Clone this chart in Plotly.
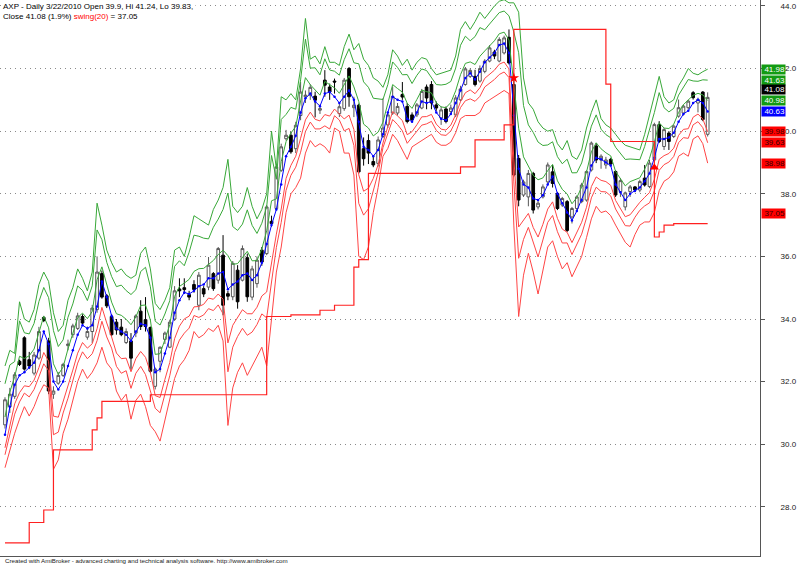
import numpy as np
import plotly.graph_objects as go

# ---------------- data ----------------
open_ = [30.62, 31.20, 31.53, 32.65, 33.40, 32.70, 32.27, 32.75, 34.05, 33.30,
         31.60, 31.95, 32.20, 33.15, 33.50, 33.70, 34.08, 33.42, 33.60, 34.30,
         35.45, 34.74, 34.08, 33.90, 33.74, 33.25, 33.30, 33.55, 34.25, 33.98,
         33.73, 31.85, 32.65, 33.35, 33.10, 34.00, 34.96, 35.00, 34.78,
         35.10, 34.44, 34.97, 35.02, 35.45, 35.24, 36.04, 34.81, 34.71, 35.56,
         35.24, 35.96, 34.70, 35.13, 36.20, 36.09, 37.12, 37.53, 38.75, 39.76,
         39.87, 39.44, 40.50, 41.10, 41.15, 41.12, 40.67, 41.63, 41.41, 41.60,
         40.56, 40.72, 42.00, 40.75, 40.83, 39.44,
         39.70, 39.03, 38.97, 39.83, 40.20, 40.58, 40.58, 41.17, 40.79, 40.52,
         40.52, 40.74, 41.41, 41.49, 40.84, 40.42, 40.71, 40.63, 40.52, 41.00,
         41.49, 41.75, 41.75, 41.60, 41.91, 42.24, 42.53, 42.24, 42.50, 43.00,
         41.49, 39.13, 37.96, 37.90, 38.65, 37.58, 37.90, 38.38,
         38.70, 38.01, 37.64, 37.75, 37.26, 37.53, 37.75, 37.80, 38.76, 39.53,
         39.08, 38.92, 39.10, 38.71, 38.07, 37.58, 38.07, 38.22, 38.12, 38.50,
         38.23, 39.08, 40.21, 39.51, 39.94, 39.83, 40.48, 40.58, 40.75, 41.23,
         40.90, 41.25, 39.90]
high = [31.50, 31.80, 32.30, 32.70, 33.45, 32.95, 32.95, 33.75, 34.10, 33.40,
        31.85, 32.30, 32.60, 33.34, 33.85, 34.20, 34.15, 33.76, 34.45, 36.00,
        35.55, 34.80, 34.15, 34.00, 34.00, 33.70, 33.55, 34.15, 34.60, 34.70,
        33.76, 32.45, 33.12, 33.60, 33.98, 35.05, 35.30, 35.30, 34.90,
        35.24, 35.50, 35.05, 35.98, 35.50, 36.30, 36.68, 34.90, 35.85, 35.72,
        36.35, 36.09, 35.70, 36.00, 36.30, 37.64, 37.30, 38.96, 39.60, 40.04,
        39.98, 40.30, 41.57, 41.30, 41.50, 41.26, 40.85, 41.95, 41.52, 41.68,
        40.90, 41.70, 42.05, 41.10, 40.88, 39.80,
        39.90, 39.20, 39.83, 41.05, 40.60, 41.43, 40.90, 41.57, 40.90, 40.60,
        40.90, 41.35, 41.49, 41.60, 40.95, 40.79, 40.79, 40.85, 41.15, 41.45,
        42.05, 42.00, 41.96, 42.10, 42.30, 42.75, 42.60, 43.00, 43.05, 43.25,
        41.75, 39.24, 38.45, 38.76, 38.70, 37.80, 38.30, 39.00,
        38.92, 38.06, 37.90, 37.80, 37.58, 37.95, 38.35, 38.75, 39.67, 39.62,
        39.26, 39.18, 39.15, 38.76, 38.50, 38.07, 38.28, 38.25, 38.45, 38.92,
        39.08, 40.27, 40.32, 40.10, 40.00, 40.21, 41.01, 40.85, 41.00, 41.28,
        41.07, 41.28, 41.24]
low = [30.50, 31.00, 31.45, 32.50, 32.35, 32.40, 32.20, 32.70, 33.90, 31.60,
       31.45, 31.90, 32.15, 33.00, 33.40, 33.65, 33.80, 33.34, 33.23, 34.20,
       34.65, 34.35, 33.45, 33.50, 33.45, 33.20, 32.38, 33.42, 33.65, 33.60,
       32.27, 31.75, 32.30, 33.20, 33.07, 33.94, 34.70, 34.80, 34.60,
       34.84, 34.28, 34.70, 34.92, 34.90, 35.13, 34.12, 34.60, 34.60, 34.33,
       35.20, 34.55, 34.60, 35.00, 35.70, 36.04, 36.95, 37.48, 38.70, 39.70,
       39.28, 39.30, 40.35, 40.90, 41.00, 40.44, 40.55, 41.10, 41.00, 41.20,
       40.45, 40.65, 40.78, 40.45, 38.65, 38.90,
       38.95, 38.85, 38.87, 39.78, 40.10, 40.52, 40.50, 41.00, 40.25, 40.30,
       40.45, 40.70, 40.70, 40.70, 40.65, 40.20, 40.25, 40.55, 40.45, 40.95,
       41.45, 41.70, 41.43, 41.55, 41.85, 42.20, 42.30, 42.20, 42.45, 42.13,
       38.55, 37.60, 37.90, 37.60, 37.37, 37.50, 37.85, 38.30,
       38.20, 37.48, 37.58, 36.78, 37.05, 37.45, 37.70, 37.75, 38.71, 38.98,
       38.80, 38.80, 38.90, 37.90, 37.90, 37.47, 37.90, 38.05, 38.05, 38.23,
       38.18, 39.03, 39.62, 39.40, 39.40, 39.78, 40.43, 40.50, 40.70, 41.01,
       40.60, 40.32, 39.83]
close = [31.42, 31.60, 32.22, 32.55, 32.40, 32.50, 32.85, 33.60, 33.95, 31.70,
         31.70, 32.20, 32.55, 33.20, 33.78, 34.10, 33.87, 33.60, 34.35, 35.50,
         34.70, 34.42, 33.50, 33.65, 33.50, 33.60, 32.75, 34.10, 33.76, 33.76,
         32.33, 32.40, 33.10, 33.55, 33.90, 34.90, 34.90, 34.94, 34.70,
         34.94, 35.40, 34.80, 35.72, 34.97, 36.25, 34.44, 34.73, 35.78, 34.55,
         36.25, 34.71, 35.60, 35.88, 35.82, 37.58, 37.05, 38.86, 39.50, 39.87,
         39.34, 40.19, 41.25, 41.15, 41.40, 40.99, 40.72, 41.47, 41.25, 41.57,
         40.78, 41.63, 41.10, 40.83, 38.70, 39.12,
         39.30, 38.92, 39.72, 40.10, 40.52, 41.11, 40.79, 41.09, 40.31, 40.36,
         40.84, 41.27, 41.06, 40.90, 40.74, 40.68, 40.31, 40.74, 41.06, 41.35,
         41.99, 41.94, 41.49, 42.00, 42.24, 42.66, 42.40, 42.93, 42.98, 42.18,
         38.60, 37.80, 38.38, 38.65, 37.48, 37.70, 38.22, 38.92,
         38.33, 37.53, 37.85, 36.83, 37.53, 37.90, 38.28, 38.71, 39.62, 39.08,
         39.20, 39.08, 38.95, 37.96, 38.42, 38.03, 38.22, 38.12, 38.39, 38.28,
         38.98, 40.21, 39.67, 40.05, 39.67, 40.16, 40.75, 40.80, 40.96, 41.07,
         41.01, 40.37, 41.08]

# blue centre line
centre = [30.3, 31.2, 31.9, 32.2, 32.3, 32.45, 32.6, 33.0, 33.6, 33.2,
          32.0, 31.75, 32.0, 32.5, 33.0, 33.5, 33.8, 33.7, 33.8, 34.4,
          35.2, 34.7, 34.1, 33.7, 33.6, 33.5, 33.3, 33.6, 33.85, 33.8,
          33.4, 32.3, 32.4, 32.9, 33.4, 34.2, 34.6, 34.85, 34.8,
          34.9, 35.05, 35.1, 35.3, 35.3, 35.45, 35.5, 34.95, 35.1, 35.2,
          35.4, 35.45, 35.25, 35.4, 35.8, 36.4, 37.0, 37.5, 38.3, 39.2,
          39.5, 39.85, 40.6, 41.05, 41.2, 40.95, 40.8, 41.2, 41.25, 41.1,
          40.9, 41.1, 41.3, 41.0, 40.3, 39.5, 39.4,
          39.2, 39.4, 39.9, 40.6, 41.1, 41.0, 40.95, 40.4, 40.3, 40.6,
          40.95, 40.9, 40.95, 40.6, 40.4, 40.35, 40.55, 40.9, 41.3, 41.7,
          41.85, 41.65, 41.9, 42.2, 42.35, 42.5, 42.75, 42.8, 42.5, 40.5,
          38.8, 38.3, 38.2, 37.85, 37.8, 37.95, 38.3,
          38.55, 38.0, 37.7, 37.4, 37.15, 37.45, 37.8, 38.2, 38.9, 39.15,
          39.1, 39.0, 38.9, 38.3, 38.05, 37.8, 38.0, 38.1, 38.2, 38.4,
          38.65, 39.15, 39.75, 39.75, 39.8, 39.95, 40.3, 40.55, 40.65, 40.9,
          41.0, 40.9, 40.63]
# outermost green band
upper_outer = [32.5, 33.0, 32.9, 34.55, 34.0, 33.9, 34.3, 35.1, 35.5, 35.2,
               34.2, 33.6, 33.8, 34.6, 35.0, 35.6, 35.3, 34.9, 35.5, 37.7,
               37.0, 36.2, 35.8, 35.5, 35.6, 35.4, 35.3, 35.4, 36.1, 36.3,
               35.6, 34.5, 34.3, 34.6, 35.0, 36.2, 36.3, 36.0, 36.6,
               37.3, 37.2, 37.1, 37.0, 37.5, 37.8, 38.2, 39.1, 37.6, 37.4,
               37.6, 38.2, 37.6, 37.2, 37.5, 38.0, 40.0, 38.8, 41.1, 41.0,
               41.2, 41.0, 42.0, 43.6, 42.3, 42.4, 42.15, 42.7, 42.2, 42.2,
               42.1, 42.7, 43.1, 42.6, 42.8, 42.3, 42.1,
               41.7, 41.6, 41.4, 41.8, 42.6, 42.4, 42.1, 42.3, 41.95, 42.2,
               42.35, 42.3, 42.0, 41.8, 41.85, 41.9, 41.95, 42.4, 43.25, 43.5,
               43.25, 43.5, 43.8, 43.6, 43.8, 44.0, 44.15, 44.2, 44.1, 44.1,
               43.8, 41.7, 40.9, 40.7, 40.3, 40.1, 40.0,
               40.05, 39.6, 39.4, 39.7, 39.2, 39.1, 39.4, 40.1, 40.6, 41.0,
               40.4, 40.2, 40.1, 39.9, 39.7, 39.55, 39.5, 39.45, 39.4, 39.9,
               40.5, 41.1, 41.75, 41.1, 40.9, 41.0, 41.45, 41.7, 42.0, 41.85,
               41.8, 41.9, 41.98]
# outermost red band
lower_outer = [29.25, 29.8, 30.35, 30.8, 31.2, 30.9, 31.2, 31.6, 31.9, 31.8,
               29.2, 29.5, 30.35, 30.8, 31.4, 32.0, 32.4, 32.1, 32.3, 32.6,
               33.1, 32.6, 32.4, 31.7, 31.4, 31.6, 30.8, 31.4, 31.6, 31.2,
               30.6, 30.4, 30.1, 30.8, 31.4, 32.1, 32.5, 32.7, 33.0,
               33.6, 33.4, 33.5, 33.7, 33.6, 33.8, 33.3, 30.6, 31.8, 32.3,
               32.6, 32.2, 32.5, 32.8, 33.1, 32.5, 34.0, 35.5, 36.3, 37.4,
               38.0, 38.2, 38.5, 39.3, 39.7, 39.5, 39.6, 39.5, 39.3, 40.1,
               40.0, 39.3, 39.3, 38.6, 36.0, 35.9, 36.3,
               37.4, 38.2, 39.2, 39.45, 39.9, 39.7, 39.4, 39.1, 39.5, 39.6,
               39.7, 39.8, 39.9, 39.65, 39.55, 39.55, 39.65, 39.95, 40.4, 40.5,
               40.5, 40.5, 40.6, 40.9, 41.0, 41.1, 41.2, 41.3, 41.2, 37.0,
               34.08, 35.4, 36.1, 35.5, 34.8, 35.6, 36.3,
               36.5, 36.0, 35.6, 35.8, 35.35, 35.7, 36.0, 36.6, 37.2, 37.6,
               37.4, 37.45, 37.3, 37.0, 36.7, 36.45, 36.3, 36.7, 37.0, 37.1,
               37.1, 37.4, 38.1, 38.4, 38.5, 38.7, 39.2, 39.3, 39.2, 39.75,
               39.85, 39.6, 38.98]
# swing(20) staircase
swing = [26.85, 26.85, 26.85, 26.85, 26.85, 27.5, 27.5, 27.5, 27.9, 27.9,
         29.82, 29.82, 29.82, 29.82, 29.82, 29.82, 29.82, 29.82, 30.46, 30.84,
         31.37, 31.37, 31.37, 31.37, 31.37, 31.37, 31.37, 31.37, 31.37, 31.37,
         31.58, 31.58, 31.58, 31.58, 31.58, 31.58, 31.58, 31.58, 31.58, 31.58,
         31.58, 31.58, 31.58, 31.58, 31.58, 31.58, 31.58, 31.58, 31.58, 31.58,
         31.58, 31.58, 31.58, 31.58, 34.08, 34.08, 34.08, 34.08, 34.08, 34.13,
         34.13, 34.13, 34.13, 34.13, 34.13, 34.28, 34.28, 34.28, 34.44, 34.44,
         34.44, 34.44, 35.66, 35.9, 35.9, 38.65, 38.65, 38.65, 38.65, 38.65,
         38.65, 38.65, 38.65, 38.65, 38.65, 38.65, 38.65, 38.65, 38.65, 38.65,
         38.65, 38.65, 38.65, 38.65, 38.86, 38.86, 38.86, 39.72, 39.72, 39.72,
         39.72, 39.72, 39.72, 40.2, 40.2, 43.25, 43.25, 43.25, 43.25, 43.25,
         43.25, 43.25, 43.25, 43.25, 43.25, 43.25, 43.25, 43.25, 43.25, 43.25,
         43.25, 43.25, 43.25, 43.25, 41.5, 39.67, 39.67, 39.67, 39.67, 39.67,
         39.67, 39.67, 39.67, 39.67, 36.62, 36.78, 37.0, 37.0, 37.05, 37.05,
         37.05, 37.05, 37.05, 37.05, 37.05, 37.05]

sell_bar, sell_price = [105], [41.7]
buy_bar, buy_price = [134], [38.84]

y_ticks = [28, 30, 32, 34, 36, 38, 40, 42, 44]
y_tick_text = ["28.0", "30.0", "32.0", "34.0", "36.0", "38.0", "40.0", "42.0", "44.0"]

# last-bar value labels on the right edge
label_values = [41.98, 41.63, 41.08, 40.98, 40.63, 39.98, 39.63, 38.98, 37.05]
label_kinds = ["g", "g", "k", "g", "b", "r", "r", "r", "r"]

# band multipliers (from the last-bar labels)
UP_K = [0.259, 0.741, 1.0]
DN_K = [0.394, 0.606, 1.0]

# ---------------- figure ----------------
n = len(close)
idx = list(range(n))
c = np.array(centre)
u = np.array(upper_outer) - c
d = c - np.array(lower_outer)

GREEN = "#38a838"
RED = "#ff4545"

fig = go.Figure()

fig.add_trace(go.Candlestick(
    x=idx, open=open_, high=high, low=low, close=close,
    increasing=dict(line=dict(color="#585858", width=1), fillcolor="white"),
    decreasing=dict(line=dict(color="black", width=1), fillcolor="black"),
    whiskerwidth=0, showlegend=False, hoverinfo="skip"))

for k in UP_K:
    fig.add_trace(go.Scatter(x=idx, y=c + k * u, mode="lines",
                             line=dict(color=GREEN, width=1), showlegend=False,
                             hoverinfo="skip"))
for k in DN_K:
    fig.add_trace(go.Scatter(x=idx, y=c - k * d, mode="lines",
                             line=dict(color=RED, width=1), showlegend=False,
                             hoverinfo="skip"))

fig.add_trace(go.Scatter(x=idx, y=centre, mode="lines+markers",
                         line=dict(color="#0000ff", width=1),
                         marker=dict(color="#0000ff", size=2.5),
                         showlegend=False, hoverinfo="skip"))

fig.add_trace(go.Scatter(x=idx, y=swing, mode="lines", line_shape="hv",
                         line=dict(color="#ff2020", width=1.2),
                         showlegend=False, hoverinfo="skip"))

fig.add_trace(go.Scatter(x=sell_bar, y=sell_price, mode="markers",
                         marker=dict(symbol="star", size=8, color="#ff0000"),
                         showlegend=False, hoverinfo="skip"))
fig.add_trace(go.Scatter(x=buy_bar, y=buy_price, mode="markers",
                         marker=dict(symbol="triangle-up", size=8, color="#ff0000"),
                         showlegend=False, hoverinfo="skip"))

PLOT_W, PLOT_H = 760, 556
X_LEFT = -1.03
X_RIGHT = n - 1 + 10.8
Y_TOP = 44.19
Y_BOT = 26.43

kind_style = {"g": ("#139b13", "white"), "k": ("black", "white"),
              "b": ("#0000ff", "white"), "r": ("#ff0000", "#3a0000")}
label_nudge = {41.08: 0.24, 37.05: 0.31}

annotations = []
for v, kd in zip(label_values, label_kinds):
    bg, fg = kind_style[kd]
    annotations.append(dict(
        x=761 / PLOT_W, xref="paper", xanchor="left",
        y=v + label_nudge.get(v, 0.0), yref="y", yanchor="middle",
        text=f"{v:.2f}", showarrow=False, bgcolor=bg, width=23, height=9,
        borderpad=0, align="right",
        font=dict(family="Liberation Sans, Arial", size=8, color=fg)))

annotations.append(dict(
    x=2 / PLOT_W, xref="paper", xanchor="left", y=1 - 1 / PLOT_H, yref="paper",
    yanchor="top", showarrow=False, bgcolor="white", borderpad=0, align="left",
    text="AXP - Daily 3/22/2010 Open 39.9, Hi 41.24, Lo 39.83, ",
    font=dict(family="Liberation Sans, Arial", size=8, color="black")))
annotations.append(dict(
    x=2 / PLOT_W, xref="paper", xanchor="left", y=1 - 11 / PLOT_H, yref="paper",
    yanchor="top", showarrow=False, bgcolor="white", borderpad=0, align="left",
    text="Close 41.08 (1.9%) <span style='color:#ff0000'>swing(20)</span> = 37.05",
    font=dict(family="Liberation Sans, Arial", size=8, color="black")))
annotations.append(dict(
    x=3 / PLOT_W, xref="paper", xanchor="left", y=-4 / PLOT_H, yref="paper",
    yanchor="middle", showarrow=False, align="left",
    text="Created with AmiBroker - advanced charting and technical analysis software. http://www.amibroker.com",
    font=dict(family="Liberation Sans, Arial", size=6.2, color="#222222")))

fig.update_layout(
    width=800, height=564,
    margin=dict(l=0, r=40, t=0, b=8, pad=0, autoexpand=False),
    paper_bgcolor="white", plot_bgcolor="white",
    boxgap=0.2,
    showlegend=False,
    annotations=annotations,
    xaxis=dict(range=[X_LEFT, X_RIGHT], showgrid=False, zeroline=False,
               showticklabels=False, ticks="", showline=True, mirror=True,
               linecolor="#555555", linewidth=1, automargin=False,
               rangeslider=dict(visible=False), fixedrange=True),
    yaxis=dict(range=[Y_BOT, Y_TOP], side="right", tickvals=y_ticks,
               ticktext=y_tick_text, showgrid=True, gridcolor="#8a8a8a",
               griddash="1px,4px", gridwidth=1, zeroline=False,
               ticks="outside", ticklen=4, tickcolor="#555555",
               ticklabelstandoff=14, automargin=False,
               tickfont=dict(family="Liberation Sans, Arial", size=8, color="#222222"),
               showline=True, mirror=True, linecolor="#555555", linewidth=1,
               fixedrange=True),
)

fig.write_html(
    "out.html",
    config={"displayModeBar": False},
    post_script="document.body.style.margin='0';document.body.style.overflow='hidden';",
)
